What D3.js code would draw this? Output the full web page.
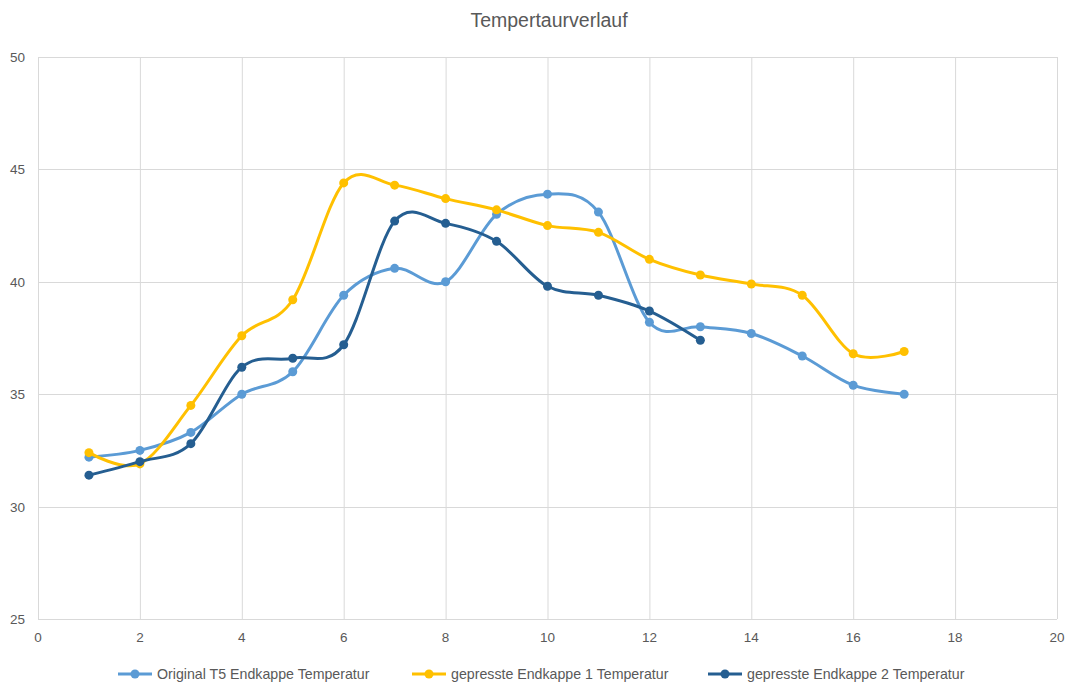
<!DOCTYPE html>
<html><head><meta charset="utf-8">
<script src="https://cdn.jsdelivr.net/npm/d3@7"></script>
<style>body{margin:0;background:#fff;} text{font-family:"Liberation Sans",Arial,sans-serif;}</style>
</head><body>
<svg id="c" width="1066" height="682"></svg>
<script>
const title = "Tempertaurverlauf";
const xs = [1,2,3,4,5,6,7,8,9,10,11,12,13,14,15,16,17];
const original = [32.2,32.5,33.3,35.0,36.0,39.4,40.6,40.0,43.0,43.9,43.1,38.2,38.0,37.7,36.7,35.4,35.0];
const gepresst1 = [32.4,31.9,34.5,37.6,39.2,44.4,44.3,43.7,43.2,42.5,42.2,41.0,40.3,39.9,39.4,36.8,36.9];
const gepresst2 = [31.4,32.0,32.8,36.2,36.6,37.2,42.7,42.6,41.8,39.8,39.4,38.7,37.4];
const seriesNames = ["Original T5 Endkappe Temperatur","gepresste Endkappe 1 Temperatur","gepresste Endkappe 2 Temperatur"];
const colors = ["#5b9bd5","#ffc000","#255e91"];
const xTicks = [0,2,4,6,8,10,12,14,16,18,20];
const yTicks = [25,30,35,40,45,50];

const svg = d3.select("#c");
const L=38, R=1057, T=57, B=619;
const x = d3.scaleLinear().domain([0,20]).range([L,R]);
const y = d3.scaleLinear().domain([25,50]).range([B,T]);

svg.append("text").attr("x",549).attr("y",27).attr("text-anchor","middle")
  .attr("font-size",19.5).attr("fill","#595959").text(title);

const g = svg.append("g");
g.selectAll(".vg").data(xTicks).join("line")
  .attr("x1",d=>x(d)+0.5).attr("x2",d=>x(d)+0.5).attr("y1",T).attr("y2",B)
  .attr("stroke","#d9d9d9").attr("stroke-width",1);
g.selectAll(".hg").data(yTicks).join("line")
  .attr("x1",L).attr("x2",R).attr("y1",d=>Math.round(y(d))+0.5).attr("y2",d=>Math.round(y(d))+0.5)
  .attr("stroke","#d9d9d9").attr("stroke-width",1);

g.selectAll(".yl").data(yTicks).join("text")
  .attr("x",25).attr("y",d=>y(d)+5).attr("text-anchor","end")
  .attr("font-size",13.5).attr("fill","#595959").text(d=>d);
g.selectAll(".xl").data(xTicks).join("text")
  .attr("x",d=>x(d)).attr("y",642).attr("text-anchor","middle")
  .attr("font-size",13.5).attr("fill","#595959").text(d=>d);

const data = [original,gepresst1,gepresst2];
const line = d3.line().x((d,i)=>x(xs[i])).y(d=>y(d)).curve(d3.curveCatmullRom.alpha(0));
data.forEach((s,k)=>{
  svg.append("path").attr("d",line(s)).attr("fill","none")
    .attr("stroke",colors[k]).attr("stroke-width",3).attr("stroke-linejoin","round").attr("stroke-linecap","round");
  svg.selectAll(".m"+k).data(s).join("circle")
    .attr("cx",(d,i)=>x(xs[i])).attr("cy",d=>y(d)).attr("r",4.5).attr("fill",colors[k]);
});

const legX = [118,412,708];
seriesNames.forEach((n,k)=>{
  const lg = svg.append("g");
  lg.append("line").attr("x1",legX[k]).attr("x2",legX[k]+34).attr("y1",674).attr("y2",674)
    .attr("stroke",colors[k]).attr("stroke-width",3);
  lg.append("circle").attr("cx",legX[k]+17).attr("cy",674).attr("r",4.5).attr("fill",colors[k]);
  lg.append("text").attr("x",legX[k]+39).attr("y",679).attr("font-size",14.2).attr("fill","#595959").text(n);
});
</script>
</body></html>
